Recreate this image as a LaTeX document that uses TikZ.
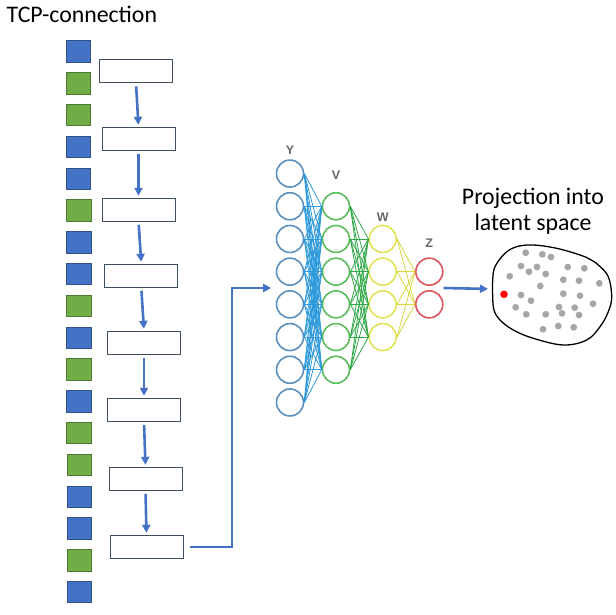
\documentclass[tikz,border=0pt]{standalone}
\usepackage{fontspec}
\setmainfont{Carlito}
\newfontfamily\lblfont{Liberation Sans}
\usetikzlibrary{arrows.meta,calc}

\tikzset{>={Triangle[length=8pt,width=8pt]}}
\definecolor{pktblue}{HTML}{4472C4}
\definecolor{pktgreen}{HTML}{70AD47}
\definecolor{winline}{HTML}{404F5F}
\definecolor{flowblue}{HTML}{4472C4}
\definecolor{ycol}{HTML}{5B8FBC}
\definecolor{yedge}{HTML}{2E9ADB}
\definecolor{vcol}{HTML}{5DBB5B}
\definecolor{vedge}{HTML}{31A84A}
\definecolor{wcol}{HTML}{E2E25A}
\definecolor{wedge}{HTML}{D6D63A}
\definecolor{zcol}{HTML}{E0525E}
\definecolor{dotgrey}{HTML}{A6A6A6}
\newcommand{\bigfont}{\fontsize{23.8}{26}\selectfont}

\tikzset{
  pkt/.style={draw=#1!70!black, fill=#1, line width=0.8pt,
    minimum width=24.5pt, minimum height=21.5pt, inner sep=0pt},
  win/.style={draw=winline, fill=white, line width=1pt,
    minimum width=73pt, minimum height=23pt, inner sep=0pt},
  flow/.style={draw=flowblue, line width=2.6pt, ->},
  neuron/.style={circle, draw=#1, fill=white, line width=1.6pt,
    minimum size=27pt, inner sep=0pt},
  synapse/.style={draw=#1, line width=0.8pt},
  layerlbl/.style={text=black!60, font=\lblfont\bfseries\fontsize{12.5}{12.5}\selectfont},
}

\begin{document}
\begin{tikzpicture}[x=1pt,y=-1pt]
  \useasboundingbox (0,0) rectangle (616,614);
  \node[anchor=base west, inner sep=0pt, font=\bigfont] (tcp) at (6.5,22.7) {TCP-connection};
  % packets
  \foreach \c [count=\i] in {pktblue,pktgreen,pktgreen,pktblue,pktblue,pktgreen,
      pktblue,pktblue,pktgreen,pktblue,pktgreen,pktblue,pktgreen,pktgreen,
      pktblue,pktblue,pktgreen,pktblue}
    \node[pkt=\c] (s\i) at ({78.3+0.07*(\i-1)}, {51.5+31.8*(\i-1)}) {};
  % windows
  \foreach \x/\y [count=\i] in {136/71.3, 138.5/138.8, 138.5/209.8, 141.3/275.8,
      144/342.8, 144/409.8, 145.5/478.8, 146.5/546.8}
    \node[win] (b\i) at (\x,\y) {};
  \foreach \i [evaluate=\i as \j using int(\i+1)] in {1,...,7}
    \draw[flow, shorten <=3pt, shorten >=2pt] (b\i.south) -- (b\j.north);
  % network
  \pgfmathsetmacro{\dy}{32.7}
  \foreach \i in {1,...,8}
    \node[neuron=ycol] (y\i) at (290, {288+(\i-4.5)*\dy}) {};
  \foreach \i in {1,...,6}
    \node[neuron=vcol] (v\i) at (336, {288+(\i-3.5)*\dy}) {};
  \foreach \i in {1,...,4}
    \node[neuron=wcol] (w\i) at (382.7, {288+(\i-2.5)*\dy}) {};
  \foreach \i in {1,2}
    \node[neuron=zcol] (z\i) at (429.3, {288+(\i-1.5)*\dy}) {};
  \foreach \i in {1,...,8} \foreach \j in {1,...,6}
    \draw[synapse=yedge] (y\i.east) -- (v\j.west);
  \foreach \i in {1,...,6} \foreach \j in {1,...,4}
    \draw[synapse=vedge] (v\i.east) -- (w\j.west);
  \foreach \i in {1,...,4} \foreach \j in {1,2}
    \draw[synapse=wedge] (w\i.east) -- (z\j.west);
  \node[layerlbl] (ylbl) at (290,150) {Y};
  \node[layerlbl] (vlbl) at (336,175) {V};
  \node[layerlbl] (wlbl) at (382.7,217) {W};
  \node[layerlbl] (zlbl) at (429.3,243) {Z};
  % into the network
  \coordinate (nnin) at ($(y4.west)!0.5!(y5.west) + (-4.5,0)$);
  \draw[flow, shorten <=6.6pt] (b8.east) -- ++(48.3,0) |- (nnin);
  % latent space
  \node[align=center, inner sep=0pt, font=\bigfont, anchor=base] (proj) at (533,230)
    {Projection into\\latent space};
  \draw[line width=1.3pt] plot[smooth cycle, tension=0.6] coordinates {
    (505,253.3) (516.7,246.7) (533.3,245) (556.7,248.3) (580,255) (590,259.3)
    (598.3,265) (608.3,276.7) (611.7,296.7) (608.3,311.7) (600,326.7) (586.7,340)
    (563.3,345) (533.3,338.3) (513.3,330) (500,320) (494,310) (492.7,296.7)
    (492.7,280) (495,266.7)};
  \foreach \x/\y in {525.7/252.7, 542.3/254.3, 551/257, 521/266, 537/267,
      529/271.7, 545.7/274, 567.7/267, 584.3/268.3, 509.7/276.3, 563.3/279.7,
      579/280.7, 599.3/283.3, 540.3/286, 521/295, 563.3/293.7, 580/295.7,
      531/300.7, 515.7/307.3, 559/307, 574.7/307.7, 593/303.7, 526.3/314.3,
      545.7/314.3, 562/313.3, 579/315, 543/329.3, 558.3/326, 573.7/327.3}
    \fill[dotgrey] (\x,\y) circle (3.4);
  \fill[red] (504,294.3) circle (3.8);
  \coordinate (latent) at (492.7,289);
  \draw[flow, shorten >=4.7pt] ($(z1.east)!0.5!(z2.east)$) -- (latent);
\end{tikzpicture}
\end{document}
